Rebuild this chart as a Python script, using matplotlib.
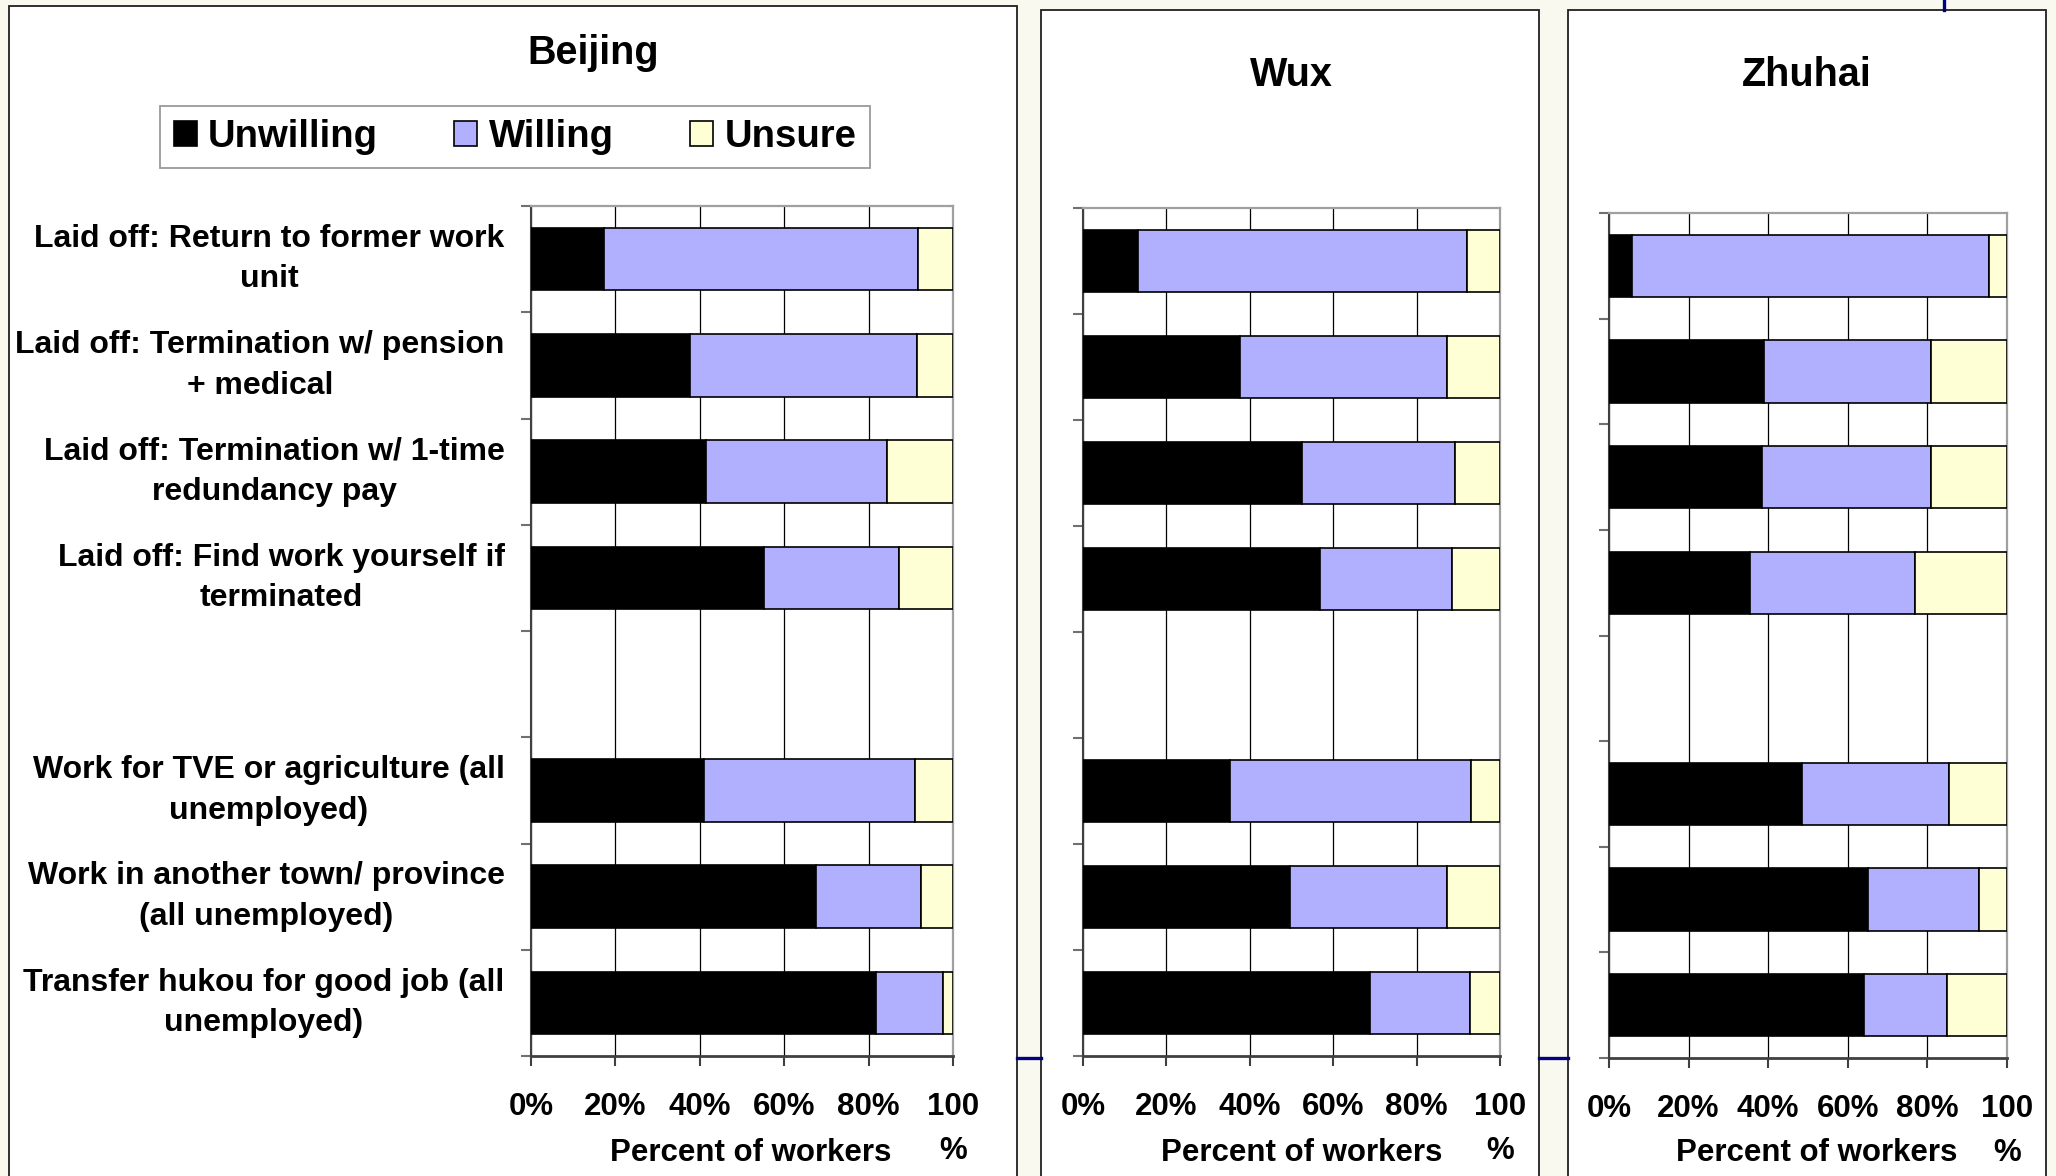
import numpy as np
import matplotlib
matplotlib.use("Agg")
import matplotlib.pyplot as plt
from matplotlib.patches import Rectangle
from matplotlib.lines import Line2D

plt.rcParams["font.family"] = ["Liberation Sans", "DejaVu Sans"]
plt.rcParams["font.weight"] = "bold"

# categories top to bottom, blank entry is the gap between groups
categories = [
    "Laid off: Return to former work\nunit",
    "Laid off: Termination w/ pension\n+ medical",
    "Laid off: Termination w/ 1-time\nredundancy pay",
    "Laid off: Find work yourself if\nterminated",
    "",
    "Work for TVE or agriculture (all\nunemployed)",
    "Work in another town/ province\n(all unemployed)",
    "Transfer hukou for good job (all\nunemployed)",
]
series_names = ["Unwilling", "Willing", "Unsure"]
cities = ["Beijing", "Wux", "Zhuhai"]

nan = np.nan
beijing_unwilling = [17.4, 37.7, 41.4, 55.2, nan, 41.0, 67.6, 81.8]
beijing_willing = [74.4, 53.7, 42.9, 32.0, nan, 49.9, 24.7, 15.8]
beijing_unsure = [8.2, 8.6, 15.7, 12.8, nan, 9.1, 7.7, 2.4]

wuxi_unwilling = [13.2, 37.7, 52.6, 56.9, nan, 35.3, 49.7, 68.9]
wuxi_willing = [79.0, 49.7, 36.7, 31.5, nan, 57.8, 37.7, 23.8]
wuxi_unsure = [7.8, 12.6, 10.7, 11.6, nan, 6.9, 12.6, 7.3]

zhuhai_unwilling = [5.8, 38.9, 38.4, 35.4, nan, 48.5, 65.1, 64.1]
zhuhai_willing = [89.6, 42.0, 42.5, 41.4, nan, 36.9, 27.9, 20.8]
zhuhai_unsure = [4.6, 19.1, 19.1, 23.2, nan, 14.6, 7.0, 15.1]

xticks = [0, 20, 40, 60, 80, 100]
xtick_labels = ["0%", "20%", "40%", "60%", "80%", "100\n%"]

data = {
    "Beijing": [beijing_unwilling, beijing_willing, beijing_unsure],
    "Wux": [wuxi_unwilling, wuxi_willing, wuxi_unsure],
    "Zhuhai": [zhuhai_unwilling, zhuhai_willing, zhuhai_unsure],
}
colors = ["#000000", "#B0B0FF", "#FFFFD6"]

W, H = 2056, 1176
fig = plt.figure(figsize=(W / 100, H / 100), dpi=100)
fig.patch.set_facecolor("#F9F9F0")

def fx(px):
    return px / W

def fy(py):
    return 1 - py / H

# white panels behind each chart
panels = [(9, 1017, 6), (1041, 1539, 10), (1568, 2046, 10)]
for x0, x1, top in panels:
    fig.patches.append(Rectangle((fx(x0), -0.02), fx(x1) - fx(x0), fy(top) + 0.02,
                                 transform=fig.transFigure, facecolor="white",
                                 edgecolor="#202020", linewidth=1.3, zorder=-5))

# stray navy lines from the slide
for xs, ys in [((fx(1017), fx(1041)), (fy(1058), fy(1058))),
               ((fx(1539), fx(1568)), (fy(1058), fy(1058))),
               ((fx(1944), fx(1944)), (fy(0), fy(10)))]:
    fig.lines.append(Line2D(xs, ys, transform=fig.transFigure, color="#000080",
                            linewidth=2.4, zorder=-4))

# axes rectangles in pixels: left, right, top, bottom
axes_px = {
    "Beijing": (531, 953, 206, 1056),
    "Wux": (1083, 1500, 208, 1056),
    "Zhuhai": (1609, 2007, 213, 1058),
}
title_px = {"Beijing": (593, 53), "Wux": (1291, 75), "Zhuhai": (1807, 75)}
xlabel_x = {"Beijing": 0.521, "Wux": 0.525, "Zhuhai": 0.523}

ypos = np.arange(len(categories))
handles = None
for city in cities:
    l, r, t, b = axes_px[city]
    ax = fig.add_axes([fx(l), fy(b), fx(r) - fx(l), fy(t) - fy(b)])
    left = np.zeros(len(categories))
    bars = []
    for vals, name, c in zip(data[city], series_names, colors):
        vals = np.array(vals, dtype=float)
        m = ~np.isnan(vals)
        bc = ax.barh(ypos[m], vals[m], left=left[m], height=0.59, color=c,
                     edgecolor="#000000", linewidth=1.2, label=name, zorder=3)
        bars.append(bc)
        left = left + np.nan_to_num(vals)
    if handles is None:
        handles = bars

    ax.set_xlim(0, 100)
    ax.set_ylim(len(categories) - 0.5, -0.5)
    ax.set_xticks(xticks)
    ax.set_xticklabels(xtick_labels, fontsize=22.5, fontweight="bold", linespacing=1.6)
    ax.xaxis.grid(True, color="#000000", linewidth=0.9, zorder=0)
    ax.set_axisbelow(True)
    ax.tick_params(axis="x", length=7, width=1.5, color="#404040", pad=19)

    ax.set_yticks(ypos)
    if city == "Beijing":
        ax.set_yticklabels(categories, fontsize=23, fontweight="bold", linespacing=1.45)
        for lab in ax.get_yticklabels():
            lab.set_multialignment("center")
            lab.set_va("center")
    else:
        ax.set_yticklabels([])
    ax.tick_params(axis="y", which="major", length=0, pad=19)
    ax.set_yticks(np.arange(-0.5, len(categories), 1), minor=True)
    ax.tick_params(axis="y", which="minor", length=7, width=1.5, color="#707070")

    for s in ["top", "right"]:
        ax.spines[s].set_color("#A0A0A0")
        ax.spines[s].set_linewidth(1.6)
    ax.spines["left"].set_color("#404040")
    ax.spines["left"].set_linewidth(1.5)
    ax.spines["bottom"].set_color("#404040")
    ax.spines["bottom"].set_linewidth(2.0)

    ax.set_xlabel("Percent of workers", fontsize=22.5, fontweight="bold")
    ax.xaxis.set_label_coords(xlabel_x[city], -(1153 - b) / (b - t))
    ax.xaxis.label.set_va("center")

    tx, ty = title_px[city]
    fig.text(fx(tx), fy(ty), city, ha="center", va="center", fontsize=28.5, fontweight="bold")

leg = fig.legend(handles, series_names, loc="center", bbox_to_anchor=(fx(515), fy(137)),
                 ncol=3, frameon=True, fancybox=False, fontsize=27.5, handlelength=0.6,
                 handleheight=0.6, handletextpad=0.3, columnspacing=2.0, borderpad=0.35,
                 borderaxespad=0.0)
leg.get_frame().set_edgecolor("#808080")
leg.get_frame().set_linewidth(1.3)

fig.savefig("out.png", dpi=100, facecolor=fig.get_facecolor())
